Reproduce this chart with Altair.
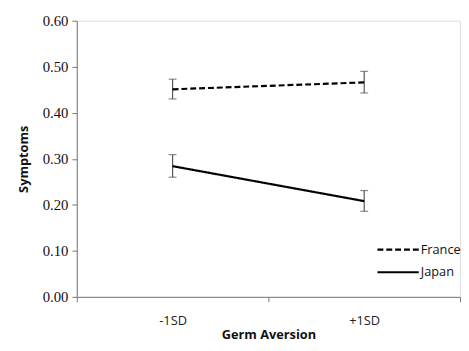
import altair as alt
import pandas as pd

categories = ["-1SD", "+1SD"]
series = ["France", "Japan"]
france_mean = [0.451, 0.466]
france_lo = [0.430, 0.443]
france_hi = [0.473, 0.490]
japan_mean = [0.284, 0.208]
japan_lo = [0.260, 0.186]
japan_hi = [0.309, 0.231]

rows = []
for i, c in enumerate(categories):
    rows.append({"cat": c, "country": "France", "mean": france_mean[i], "lo": france_lo[i], "hi": france_hi[i]})
    rows.append({"cat": c, "country": "Japan", "mean": japan_mean[i], "lo": japan_lo[i], "hi": japan_hi[i]})
df = pd.DataFrame(rows)

x_axis = alt.Axis(labelAngle=0, tickBand="extent", labelFont="Open Sans",
                  labelFontSize=13, labelColor="#222", labelPadding=13,
                  titleFont="Open Sans", titleFontSize=13, titleFontWeight="bold",
                  titlePadding=1, domainColor="#777", tickColor="#777", tickSize=5,
                  titleColor="#111")
y_axis = alt.Axis(values=[0, 0.1, 0.2, 0.3, 0.4, 0.5, 0.6], format=".2f", grid=False,
                  labelFont="Liberation Serif", labelFontSize=15, labelColor="#111",
                  labelPadding=4, tickSize=5, domainColor="#777", tickColor="#777",
                  titleFont="Open Sans", titleFontSize=13, titleFontWeight="bold",
                  titlePadding=12, titleColor="#111")

x = alt.X("cat:N", sort=categories, title="Germ Aversion",
          scale=alt.Scale(paddingInner=0, paddingOuter=0), axis=x_axis)

lines = alt.Chart(df).mark_line(color="black", strokeWidth=2.2).encode(
    x=x,
    y=alt.Y("mean:Q", title="Symptoms", scale=alt.Scale(domain=[0, 0.6]), axis=y_axis),
    strokeDash=alt.StrokeDash("country:N",
                              scale=alt.Scale(domain=series, range=[[6, 3], [1, 0]]),
                              legend=alt.Legend(title=None, orient="none", legendX=315, legendY=221,
                                                padding=0,
                                                symbolType="M-2,0H2", symbolSize=441,
                                                symbolStrokeWidth=2.2, symbolStrokeColor="black",
                                                symbolFillColor="transparent",
                                                labelFont="Open Sans", labelFontSize=13,
                                                labelColor="#111", rowPadding=4, labelOffset=11)),
)

bars = alt.Chart(df).mark_errorbar(color="#555", ticks=alt.TickConfig(size=8, thickness=1.2),
                                   thickness=1.2).encode(
    x=x,
    y=alt.Y("lo:Q", title="Symptoms", scale=alt.Scale(domain=[0, 0.6]), axis=y_axis),
    y2="hi:Q",
)

chart = (bars + lines).properties(
    width=390, height=281,
    padding={"left": 70, "top": 10, "right": 1, "bottom": 44},
    autosize=alt.AutoSizeParams(type="none"),
).configure_view(stroke=None).configure(background="white")

chart.save("out.html", embed_options={"renderer": "svg", "actions": False})
